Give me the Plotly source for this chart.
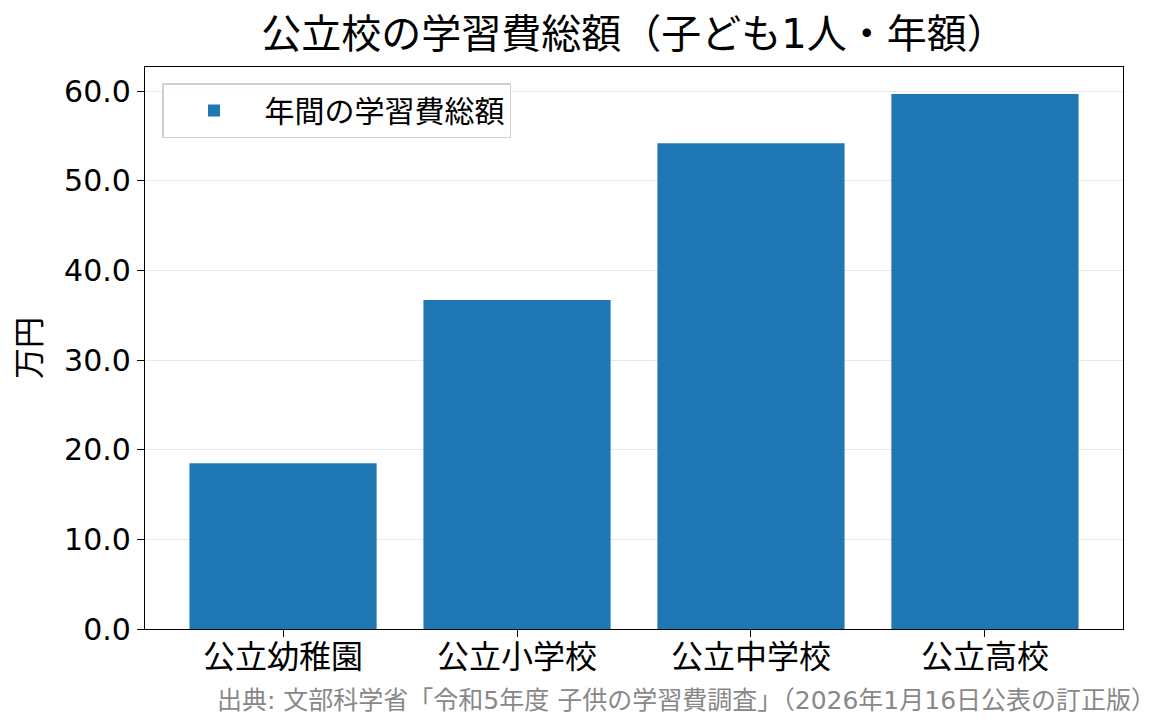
import plotly.graph_objects as go

categories = ["公立幼稚園", "公立小学校", "公立中学校", "公立高校"]
values = [18.5, 36.7, 54.2, 59.7]
series_name = "年間の学習費総額"
title_text = "公立校の学習費総額（子ども1人・年額）"
y_title = "万円"
source_text = "出典: 文部科学省「令和5年度 子供の学習費調査」（2026年1月16日公表の訂正版）"
y_ticks = [0, 10, 20, 30, 40, 50, 60]

FONT = "DejaVu Sans, Noto Sans CJK JP"

W, H = 1149, 709
L, R, T, B = 137, 34, 59, 88
plot_h = H - T - B
plot_w = W - L - R

fig = go.Figure()
fig.add_trace(go.Bar(
    x=categories, y=values, name=series_name,
    marker=dict(color="#1f77b4", line=dict(width=0)),
    showlegend=True,
))

fig.update_layout(
    width=W, height=H,
    margin=dict(l=L, r=R, t=T, b=B),
    paper_bgcolor="white", plot_bgcolor="white",
    font=dict(family=FONT, color="black", size=30),
    bargap=0.2,
    title=dict(text=title_text, x=(L + plot_w / 2) / W, xanchor="center",
               y=1 - 26 / H, yanchor="middle",
               font=dict(family=FONT, size=40, color="black")),
    legend=dict(x=17 / plot_w, y=1 - 16 / plot_h, xanchor="left", yanchor="top",
                bgcolor="rgba(255,255,255,0.8)", bordercolor="#d0d0d0", borderwidth=1.5,
                font=dict(family=FONT, size=30), itemwidth=91),
    showlegend=True,
)
fig.update_xaxes(
    range=[-0.59, 3.59], showline=True, linecolor="black", linewidth=1.3, mirror=True,
    ticks="outside", ticklen=7, tickcolor="black", showgrid=False,
    tickfont=dict(family=FONT, size=32), ticklabelstandoff=-8,
)
fig.update_yaxes(
    range=[0, 62.7], tickvals=y_ticks, tickformat=".1f",
    showline=True, linecolor="black", linewidth=1.3, mirror=True,
    ticks="outside", ticklen=7, tickcolor="black",
    showgrid=True, gridcolor="rgba(190,190,190,0.35)", gridwidth=1.3,
    zeroline=False, layer="above traces",
    tickfont=dict(family=FONT, size=30),
    title=dict(text=y_title, font=dict(family=FONT, size=31), standoff=14),
)
fig.add_annotation(
    text=source_text, xref="paper", yref="paper", x=(1150 - L) / plot_w, y=-55 / plot_h,
    xanchor="right", yanchor="top", showarrow=False,
    font=dict(family=FONT, size=25, color="#888888"),
)

fig.write_html("out.html")
